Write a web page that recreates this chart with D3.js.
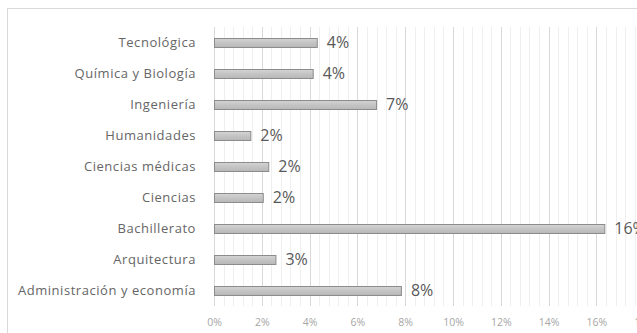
<!DOCTYPE html>
<html><head><meta charset="utf-8">
<script src="https://cdn.jsdelivr.net/npm/d3@7"></script>
<style>body{margin:0;background:#fff;overflow:hidden}svg{display:block}</style>
</head><body>
<script>
const categories = ["Tecnológica","Química y Biología","Ingeniería","Humanidades","Ciencias médicas","Ciencias","Bachillerato","Arquitectura","Administración y economía"];
const values = [0.043,0.0413,0.0678,0.0152,0.0227,0.0204,0.1633,0.0257,0.0782];
const valueLabels = ["4%","4%","7%","2%","2%","2%","16%","3%","8%"];
const tickValues = [0,0.02,0.04,0.06,0.08,0.10,0.12,0.14,0.16,0.18];

const W=637,H=333;
const svg=d3.select("body").append("svg").attr("width",W).attr("height",H);
const font="'Open Sans', sans-serif";
svg.append("rect").attr("x",7.5).attr("y",8.5).attr("width",700).attr("height",400)
  .attr("fill","#fff").attr("stroke","#d9d9d9");

const x=d3.scaleLinear().domain([0,0.18]).range([214,644.2]);
const y=d3.scaleBand().domain(categories).range([27,306]).paddingInner(0.71).paddingOuter(0.355);

// gridlines
const minor=d3.range(0,0.1801,0.004);
svg.append("g").selectAll("line").data(minor).join("line")
  .attr("x1",d=>Math.round(x(d))+0.5).attr("x2",d=>Math.round(x(d))+0.5)
  .attr("y1",27).attr("y2",306)
  .attr("stroke",(d,i)=>i%5===0?"#d9d9d9":"#efefef").attr("stroke-width",1);

// bars
const defs=svg.append("defs");
const g=defs.append("linearGradient").attr("id","bg").attr("x1",0).attr("y1",0).attr("x2",0).attr("y2",1);
g.append("stop").attr("offset","0").attr("stop-color","#d4d4d4");
g.append("stop").attr("offset","0.5").attr("stop-color","#c4c4c4");
g.append("stop").attr("offset","1").attr("stop-color","#b8b8b8");

svg.append("g").selectAll("rect").data(categories).join("rect")
  .attr("x",x(0)+0.5).attr("y",d=>Math.round(y(d))+0.5)
  .attr("width",(d,i)=>x(values[i])-x(0)).attr("height",y.bandwidth())
  .attr("fill","url(#bg)").attr("stroke","#8c8c8c").attr("stroke-width",1);

// value labels
svg.append("g").selectAll("text").data(categories).join("text")
  .attr("x",(d,i)=>x(values[i])+10).attr("y",d=>y(d)+y.bandwidth()/2)
  .attr("dy","0.36em").attr("font-family",font).attr("font-size",16)
  .attr("fill","#595959").text((d,i)=>valueLabels[i]);

// category labels
const yAxis=d3.axisLeft(y).tickSize(0).tickPadding(18);
const ya=svg.append("g").attr("transform",`translate(${x(0)},0)`).call(yAxis);
ya.select(".domain").remove();
ya.selectAll("text").attr("font-family",font).attr("font-size",13).attr("letter-spacing","0.55px").attr("fill","#666");

// x axis ticks
const xAxis=d3.axisBottom(x).tickValues(tickValues).tickSize(0).tickPadding(0).tickFormat(d3.format(".0%"));
const xa=svg.append("g").attr("transform","translate(0,319)").call(xAxis);
xa.select(".domain").remove();
xa.selectAll("text").attr("font-family",font).attr("font-size",10.5).attr("fill","#a6a6a6");
</script>
</body></html>
